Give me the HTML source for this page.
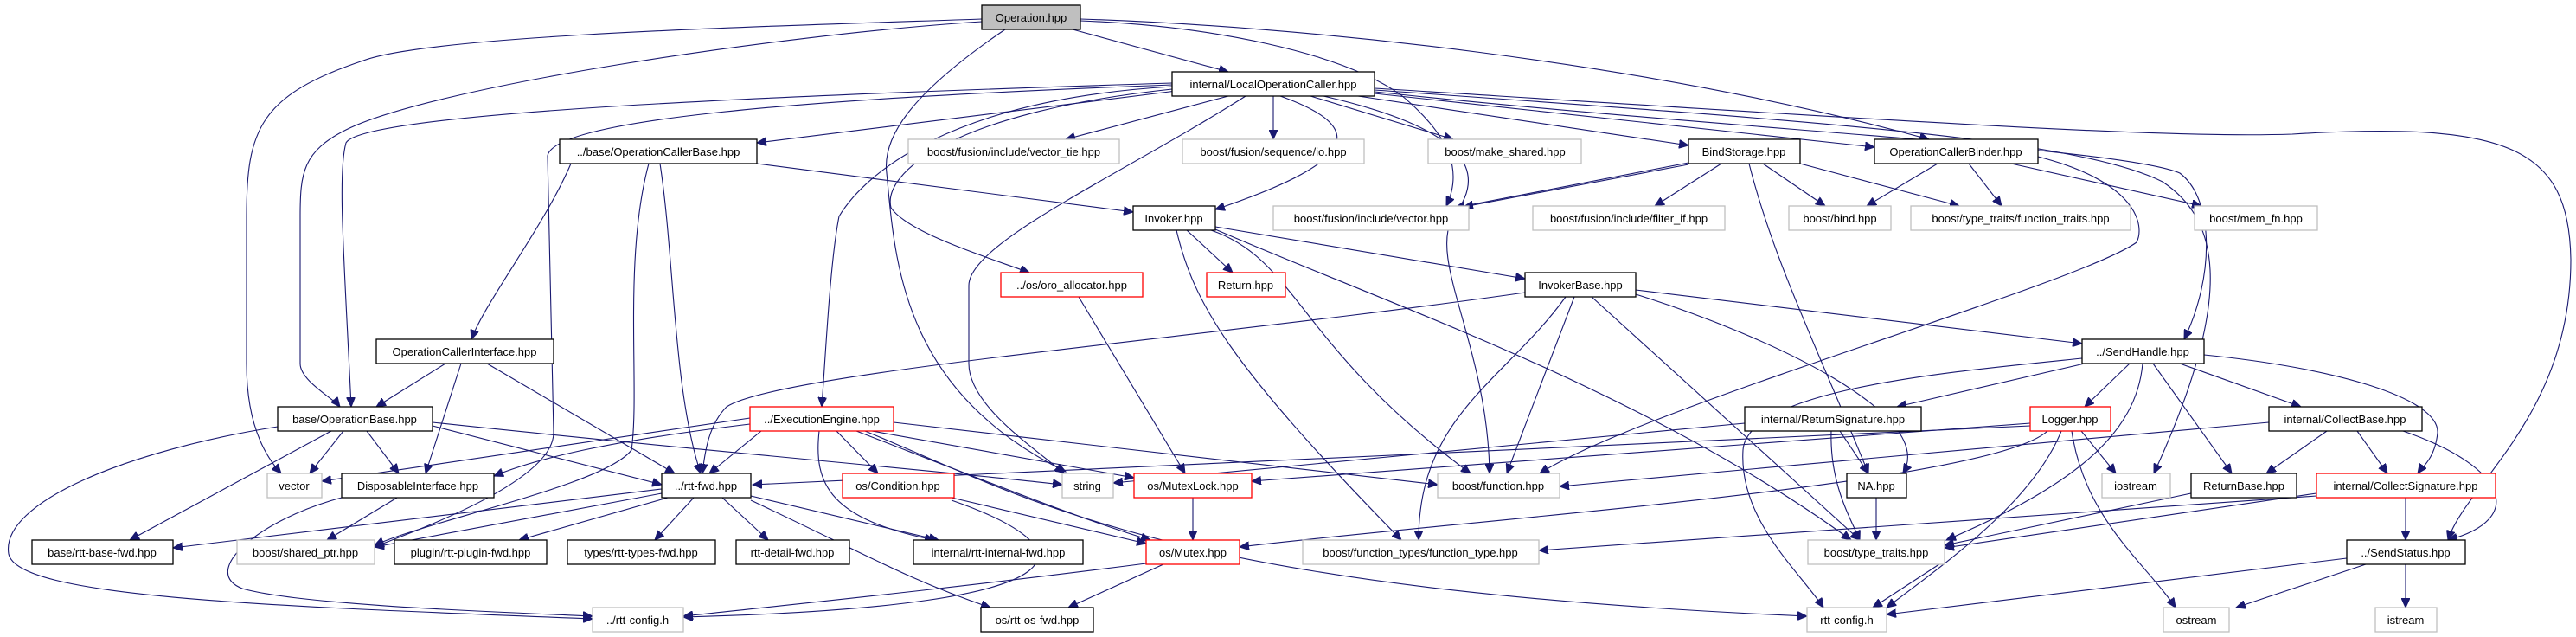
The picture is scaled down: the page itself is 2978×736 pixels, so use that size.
<!DOCTYPE html>
<html><head><meta charset="utf-8"><style>
html,body{margin:0;padding:0;background:#fff;}
svg{display:block;}
text{font-family:"Liberation Sans","DejaVu Sans",sans-serif;font-size:13px;fill:#000;}
.e{fill:none;stroke:#191970;stroke-width:1.1;marker-end:url(#a);}
.b{fill:#fff;stroke:#000;stroke-width:1.3;}
.g{fill:#fff;stroke:#bfbfbf;stroke-width:1.3;}
.r{fill:#fff;stroke:#ff0000;stroke-width:1.3;}
</style></head><body>
<svg width="2978" height="736" viewBox="0 0 2978 736" xmlns="http://www.w3.org/2000/svg">
<defs><marker id="a" markerUnits="userSpaceOnUse" markerWidth="12" markerHeight="10" refX="11" refY="5" orient="auto"><path d="M0,0 L11,5 L0,10 z" fill="#191970" stroke="#191970"/></marker></defs>
<g>
<path class="e" d="M1240,34 L1420,83"/>
<path class="e" d="M1135,22 C900,30 500,40 420,70 C300,110 285,150 285,250 L285,420 C285,480 300,520 325,547"/>
<path class="e" d="M1135,25 C900,40 500,100 400,150 C350,175 347,200 347,250 L347,420 C347,440 385,460 393,470"/>
<path class="e" d="M1162,34 C1050,110 1020,160 1025,200 C1035,300 1040,450 1232,545"/>
<path class="e" d="M1249,22 C1500,30 1900,70 2230,161"/>
<path class="e" d="M1249,24 C1400,30 1550,60 1620,110 C1680,160 1690,200 1672,238"/>
<path class="e" d="M1360,105 L875,165"/>
<path class="e" d="M1420,111 L1232,161"/>
<path class="e" d="M1472,111 L1472,161"/>
<path class="e" d="M1515,111 L1680,161"/>
<path class="e" d="M1570,111 L1952,168"/>
<path class="e" d="M1589,108 L2167,170"/>
<path class="e" d="M1480,111 C1590,150 1560,190 1405,242"/>
<path class="e" d="M1530,111 C1700,150 1720,200 1680,250 C1650,300 1720,400 1722,547"/>
<path class="e" d="M1355,100 C1100,115 1000,200 970,250 C960,300 955,400 950,470"/>
<path class="e" d="M1355,103 C1100,130 1020,200 1030,240 C1050,270 1150,300 1190,315"/>
<path class="e" d="M1440,111 C1300,200 1120,280 1120,330 L1120,420 C1120,470 1200,520 1230,547"/>
<path class="e" d="M1355,96 C900,110 420,130 400,165 C390,200 398,300 406,470"/>
<path class="e" d="M1355,98 C900,115 640,140 633,180 L640,500 C640,560 460,620 433,632"/>
<path class="e" d="M1589,106 C2000,150 2450,170 2520,200 C2560,230 2560,320 2525,392"/>
<path class="e" d="M1589,102 C2200,140 2500,160 2650,155 C2900,140 2970,170 2972,300 C2972,480 2850,560 2830,624"/>
<path class="e" d="M1589,104 C2100,140 2400,160 2500,210 C2560,250 2590,330 2490,547"/>
<path class="e" d="M875,189 L1310,245"/>
<path class="e" d="M660,189 C630,260 560,350 545,392"/>
<path class="e" d="M763,189 C780,300 778,450 810,547"/>
<path class="e" d="M750,189 C720,300 740,450 730,520 C700,560 500,600 433,630"/>
<path class="e" d="M1372,266 L1425,315"/>
<path class="e" d="M1405,262 L1763,322"/>
<path class="e" d="M1400,266 C1500,300 1500,400 1700,547"/>
<path class="e" d="M1360,266 C1380,350 1420,420 1620,624"/>
<path class="e" d="M1405,265 C1600,350 1900,450 2140,624"/>
<path class="e" d="M1247,343 L1370,547"/>
<path class="e" d="M1952,188 L1682,240"/>
<path class="e" d="M1952,190 L1692,239"/>
<path class="e" d="M1990,189 L1913,238"/>
<path class="e" d="M2038,189 L2110,238"/>
<path class="e" d="M2081,189 L2265,238"/>
<path class="e" d="M2022,189 C2050,300 2100,400 2160,547"/>
<path class="e" d="M2240,189 L2158,238"/>
<path class="e" d="M2276,189 L2314,238"/>
<path class="e" d="M2325,189 L2545,238"/>
<path class="e" d="M2356,181 C2470,210 2480,260 2470,280 C2400,330 1900,470 1780,547"/>
<path class="e" d="M1763,338 C1400,390 900,430 840,470 C820,490 815,520 812,547"/>
<path class="e" d="M1891,335 L2407,397"/>
<path class="e" d="M1820,343 L1742,547"/>
<path class="e" d="M1810,343 C1740,440 1640,480 1640,624"/>
<path class="e" d="M1840,343 L2150,624"/>
<path class="e" d="M1891,340 C2050,390 2240,480 2200,547"/>
<path class="e" d="M2462,420 L2410,470"/>
<path class="e" d="M2489,420 L2580,547"/>
<path class="e" d="M2520,420 L2660,470"/>
<path class="e" d="M2548,410 C2700,425 2820,460 2818,500 C2815,530 2800,540 2795,547"/>
<path class="e" d="M2410,420 L2193,470"/>
<path class="e" d="M2477,420 C2470,500 2400,560 2250,624"/>
<path class="e" d="M2407,414 C2250,430 2020,450 2015,520 C2010,600 2080,660 2108,702"/>
<path class="e" d="M2127,498 L2160,547"/>
<path class="e" d="M2117,498 C2115,560 2140,600 2150,624"/>
<path class="e" d="M2017,489 L1287,558"/>
<path class="e" d="M2406,498 L2446,547"/>
<path class="e" d="M2395,498 C2410,600 2480,650 2515,702"/>
<path class="e" d="M2347,489 L1447,556"/>
<path class="e" d="M2347,492 L870,560"/>
<path class="e" d="M2367,498 C2300,560 1700,600 1433,632"/>
<path class="e" d="M2383,498 C2350,580 2250,650 2181,702"/>
<path class="e" d="M2690,498 L2620,547"/>
<path class="e" d="M2725,498 L2760,547"/>
<path class="e" d="M2778,498 C2900,540 2920,600 2830,624"/>
<path class="e" d="M2623,488 L1803,562"/>
<path class="e" d="M2533,570 L2248,630"/>
<path class="e" d="M2678,570 L2248,633"/>
<path class="e" d="M2781,575 L2781,624"/>
<path class="e" d="M2678,573 L1779,636"/>
<path class="e" d="M2169,575 L2169,624"/>
<path class="e" d="M2248,648 L2165,702"/>
<path class="e" d="M2713,645 L2181,710"/>
<path class="e" d="M2735,652 L2585,702"/>
<path class="e" d="M2781,652 L2781,702"/>
<path class="e" d="M397,498 L358,547"/>
<path class="e" d="M424,498 L461,547"/>
<path class="e" d="M383,498 L150,624"/>
<path class="e" d="M321,493 C150,520 0,580 10,640 C20,690 300,700 685,715"/>
<path class="e" d="M500,492 L765,560"/>
<path class="e" d="M500,488 C800,520 1100,545 1228,560"/>
<path class="e" d="M515,420 L435,470"/>
<path class="e" d="M533,420 L492,547"/>
<path class="e" d="M563,420 L780,547"/>
<path class="e" d="M459,575 L378,624"/>
<path class="e" d="M395,575 C300,600 230,660 280,680 C350,700 600,708 685,712"/>
<path class="e" d="M867,490 C700,510 620,530 571,550"/>
<path class="e" d="M867,483 L372,556"/>
<path class="e" d="M880,498 L820,547"/>
<path class="e" d="M967,498 L1015,547"/>
<path class="e" d="M947,498 C940,560 960,600 1080,624"/>
<path class="e" d="M990,498 C1150,560 1250,600 1330,624"/>
<path class="e" d="M1008,498 L1311,552"/>
<path class="e" d="M1033,488 L1662,560"/>
<path class="e" d="M1000,498 C1200,580 1350,680 2089,712"/>
<path class="e" d="M765,565 L200,633"/>
<path class="e" d="M765,570 L433,632"/>
<path class="e" d="M772,575 L600,624"/>
<path class="e" d="M802,575 L757,624"/>
<path class="e" d="M835,575 L888,624"/>
<path class="e" d="M868,573 L1085,624"/>
<path class="e" d="M868,578 C1000,640 1050,670 1145,702"/>
<path class="e" d="M1100,575 L1325,628"/>
<path class="e" d="M1100,578 C1250,630 1290,700 790,713"/>
<path class="e" d="M1379,575 L1379,624"/>
<path class="e" d="M1345,652 L1235,702"/>
<path class="e" d="M1325,651 C1100,680 900,700 790,712"/>
</g>
<g text-anchor="middle">
<rect x="1135" y="6" width="114" height="28" fill="#bfbfbf" stroke="#000" stroke-width="1.3"/><text x="1192" y="25">Operation.hpp</text>
<rect class="b" x="1355" y="83" width="234" height="28"/><text x="1472" y="102">internal/LocalOperationCaller.hpp</text>
<rect class="b" x="647" y="161" width="228" height="28"/><text x="761" y="180">../base/OperationCallerBase.hpp</text>
<rect class="g" x="1050" y="161" width="244" height="28"/><text x="1172" y="180">boost/fusion/include/vector_tie.hpp</text>
<rect class="g" x="1367" y="161" width="210" height="28"/><text x="1472" y="180">boost/fusion/sequence/io.hpp</text>
<rect class="g" x="1651" y="161" width="177" height="28"/><text x="1740" y="180">boost/make_shared.hpp</text>
<rect class="b" x="1952" y="161" width="129" height="28"/><text x="2016" y="180">BindStorage.hpp</text>
<rect class="b" x="2167" y="161" width="189" height="28"/><text x="2261" y="180">OperationCallerBinder.hpp</text>
<rect class="b" x="1310" y="238" width="95" height="28"/><text x="1357" y="257">Invoker.hpp</text>
<rect class="g" x="1472" y="238" width="226" height="28"/><text x="1585" y="257">boost/fusion/include/vector.hpp</text>
<rect class="g" x="1772" y="238" width="222" height="28"/><text x="1883" y="257">boost/fusion/include/filter_if.hpp</text>
<rect class="g" x="2068" y="238" width="118" height="28"/><text x="2127" y="257">boost/bind.hpp</text>
<rect class="g" x="2209" y="238" width="254" height="28"/><text x="2336" y="257">boost/type_traits/function_traits.hpp</text>
<rect class="g" x="2537" y="238" width="142" height="28"/><text x="2608" y="257">boost/mem_fn.hpp</text>
<rect class="r" x="1157" y="315" width="164" height="28"/><text x="1239" y="334">../os/oro_allocator.hpp</text>
<rect class="r" x="1395" y="315" width="91" height="28"/><text x="1440" y="334">Return.hpp</text>
<rect class="b" x="1763" y="315" width="128" height="28"/><text x="1827" y="334">InvokerBase.hpp</text>
<rect class="b" x="435" y="392" width="205" height="28"/><text x="537" y="411">OperationCallerInterface.hpp</text>
<rect class="b" x="2407" y="392" width="141" height="28"/><text x="2477" y="411">../SendHandle.hpp</text>
<rect class="b" x="321" y="470" width="179" height="28"/><text x="410" y="489">base/OperationBase.hpp</text>
<rect class="r" x="867" y="470" width="166" height="28"/><text x="950" y="489">../ExecutionEngine.hpp</text>
<rect class="b" x="2017" y="470" width="204" height="28"/><text x="2119" y="489">internal/ReturnSignature.hpp</text>
<rect class="r" x="2347" y="470" width="93" height="28"/><text x="2393" y="489">Logger.hpp</text>
<rect class="b" x="2623" y="470" width="177" height="28"/><text x="2711" y="489">internal/CollectBase.hpp</text>
<rect class="g" x="309" y="547" width="63" height="28"/><text x="340" y="566">vector</text>
<rect class="b" x="395" y="547" width="176" height="28"/><text x="483" y="566">DisposableInterface.hpp</text>
<rect class="b" x="765" y="547" width="103" height="28"/><text x="816" y="566">../rtt-fwd.hpp</text>
<rect class="r" x="974" y="547" width="129" height="28"/><text x="1038" y="566">os/Condition.hpp</text>
<rect class="g" x="1228" y="547" width="59" height="28"/><text x="1257" y="566">string</text>
<rect class="r" x="1311" y="547" width="136" height="28"/><text x="1379" y="566">os/MutexLock.hpp</text>
<rect class="g" x="1662" y="547" width="141" height="28"/><text x="1732" y="566">boost/function.hpp</text>
<rect class="b" x="2135" y="547" width="69" height="28"/><text x="2169" y="566">NA.hpp</text>
<rect class="g" x="2430" y="547" width="79" height="28"/><text x="2469" y="566">iostream</text>
<rect class="b" x="2533" y="547" width="122" height="28"/><text x="2594" y="566">ReturnBase.hpp</text>
<rect class="r" x="2678" y="547" width="207" height="28"/><text x="2781" y="566">internal/CollectSignature.hpp</text>
<rect class="b" x="37" y="624" width="163" height="28"/><text x="118" y="643">base/rtt-base-fwd.hpp</text>
<rect class="g" x="274" y="624" width="159" height="28"/><text x="353" y="643">boost/shared_ptr.hpp</text>
<rect class="b" x="456" y="624" width="176" height="28"/><text x="544" y="643">plugin/rtt-plugin-fwd.hpp</text>
<rect class="b" x="656" y="624" width="171" height="28"/><text x="741" y="643">types/rtt-types-fwd.hpp</text>
<rect class="b" x="851" y="624" width="131" height="28"/><text x="916" y="643">rtt-detail-fwd.hpp</text>
<rect class="b" x="1056" y="624" width="196" height="28"/><text x="1154" y="643">internal/rtt-internal-fwd.hpp</text>
<rect class="r" x="1325" y="624" width="108" height="28"/><text x="1379" y="643">os/Mutex.hpp</text>
<rect class="g" x="1506" y="624" width="273" height="28"/><text x="1642" y="643">boost/function_types/function_type.hpp</text>
<rect class="g" x="2090" y="624" width="158" height="28"/><text x="2169" y="643">boost/type_traits.hpp</text>
<rect class="b" x="2713" y="624" width="137" height="28"/><text x="2781" y="643">../SendStatus.hpp</text>
<rect class="g" x="685" y="702" width="105" height="28"/><text x="737" y="721">../rtt-config.h</text>
<rect class="b" x="1134" y="702" width="130" height="28"/><text x="1199" y="721">os/rtt-os-fwd.hpp</text>
<rect class="g" x="2089" y="702" width="92" height="28"/><text x="2135" y="721">rtt-config.h</text>
<rect class="g" x="2501" y="702" width="76" height="28"/><text x="2539" y="721">ostream</text>
<rect class="g" x="2746" y="702" width="71" height="28"/><text x="2781" y="721">istream</text>
</g>
</svg>
</body></html>
